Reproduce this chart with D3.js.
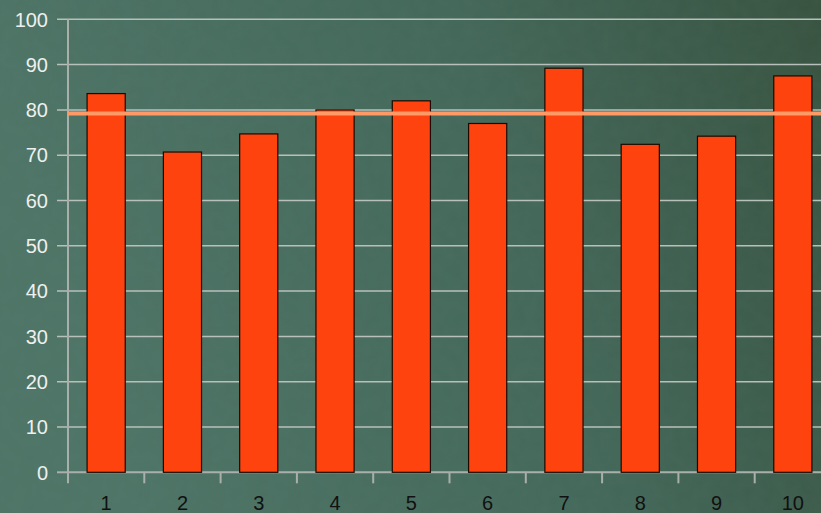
<!DOCTYPE html>
<html>
<head>
<meta charset="utf-8">
<script src="https://cdn.jsdelivr.net/npm/d3@7"></script>
<style>
  html, body { margin: 0; padding: 0; overflow: hidden; }
  body { width: 821px; height: 513px; }
  text { font-family: "Liberation Sans", Arial, sans-serif; }
</style>
</head>
<body>
<div id="chart"></div>
<script>
const categories = ['1', '2', '3', '4', '5', '6', '7', '8', '9', '10'];
const values = [83.6, 70.7, 74.7, 80.0, 82.0, 77.0, 89.2, 72.4, 74.2, 87.5];
const averageLine = [79.2];
const yTicks = [0, 10, 20, 30, 40, 50, 60, 70, 80, 90, 100];

const width = 821;
const height = 513;
const margin = { top: 19.3, left: 68, bottom: 472.3, right: 831 };

const svg = d3.select('#chart')
  .append('svg')
  .attr('width', width)
  .attr('height', height);

// chalkboard background
const defs = svg.append('defs');
const bg = defs.append('linearGradient')
  .attr('id', 'bg')
  .attr('x1', '0%').attr('y1', '20%')
  .attr('x2', '100%').attr('y2', '0%');
bg.append('stop').attr('offset', '0%').attr('stop-color', '#4d7466');
bg.append('stop').attr('offset', '55%').attr('stop-color', '#43685a');
bg.append('stop').attr('offset', '100%').attr('stop-color', '#37523f');

const noise = defs.append('filter').attr('id', 'noise');
noise.append('feTurbulence')
  .attr('type', 'fractalNoise')
  .attr('baseFrequency', '0.08')
  .attr('numOctaves', 2)
  .attr('seed', 3);
noise.append('feColorMatrix')
  .attr('type', 'matrix')
  .attr('values', '0 0 0 0 0.2  0 0 0 0 0.3  0 0 0 0 0.25  0 0 0 0.08 0');

svg.append('rect').attr('width', width).attr('height', height).attr('fill', 'url(#bg)');
svg.append('rect').attr('width', width).attr('height', height).attr('filter', 'url(#noise)');

const y = d3.scaleLinear()
  .domain([0, 100])
  .range([margin.bottom, margin.top]);

const x = d3.scaleBand()
  .domain(categories)
  .range([margin.left, margin.right])
  .paddingInner(0.5)
  .paddingOuter(0.25);

const xCell = d3.scaleBand()
  .domain(categories)
  .range([margin.left, margin.right]);

// gridlines
svg.append('g')
  .selectAll('line')
  .data(yTicks.filter(d => d > 0))
  .enter()
  .append('line')
  .attr('x1', margin.left - 11)
  .attr('x2', width)
  .attr('y1', d => y(d))
  .attr('y2', d => y(d))
  .attr('stroke', '#b8c0bc')
  .attr('stroke-width', 1.5);

// y axis
svg.append('line')
  .attr('x1', margin.left).attr('x2', margin.left)
  .attr('y1', y(100)).attr('y2', margin.bottom + 11)
  .attr('stroke', '#a9b0ac')
  .attr('stroke-width', 2);

svg.append('line')
  .attr('x1', margin.left - 11).attr('x2', margin.left)
  .attr('y1', y(0)).attr('y2', y(0))
  .attr('stroke', '#a9b0ac')
  .attr('stroke-width', 2);

svg.append('g')
  .selectAll('text')
  .data(yTicks)
  .enter()
  .append('text')
  .attr('x', 48)
  .attr('y', d => y(d))
  .attr('dy', '0.36em')
  .attr('text-anchor', 'end')
  .attr('font-size', '20px')
  .attr('fill', '#eef0ee')
  .text(d => d);

// x axis
svg.append('line')
  .attr('x1', margin.left).attr('x2', width)
  .attr('y1', y(0)).attr('y2', y(0))
  .attr('stroke', '#a9b0ac')
  .attr('stroke-width', 2);

svg.append('g')
  .selectAll('line')
  .data(categories.slice(1))
  .enter()
  .append('line')
  .attr('x1', d => xCell(d))
  .attr('x2', d => xCell(d))
  .attr('y1', y(0))
  .attr('y2', y(0) + 11)
  .attr('stroke', '#a9b0ac')
  .attr('stroke-width', 2);

svg.append('g')
  .selectAll('text')
  .data(categories)
  .enter()
  .append('text')
  .attr('x', d => x(d) + x.bandwidth() / 2)
  .attr('y', 510)
  .attr('text-anchor', 'middle')
  .attr('font-size', '20px')
  .attr('fill', '#111')
  .text(d => d);

// bars
svg.append('g')
  .selectAll('rect')
  .data(values)
  .enter()
  .append('rect')
  .attr('x', (d, i) => x(categories[i]))
  .attr('y', d => y(d))
  .attr('width', x.bandwidth())
  .attr('height', d => y(0) - y(d))
  .attr('fill', '#ff430e')
  .attr('stroke', '#1a0a00')
  .attr('stroke-width', 1.2);

// average line
svg.append('g')
  .selectAll('line')
  .data(averageLine)
  .enter()
  .append('line')
  .attr('x1', margin.left)
  .attr('x2', width)
  .attr('y1', d => y(d))
  .attr('y2', d => y(d))
  .attr('stroke', '#ff9966')
  .attr('stroke-width', 4);
</script>
</body>
</html>
